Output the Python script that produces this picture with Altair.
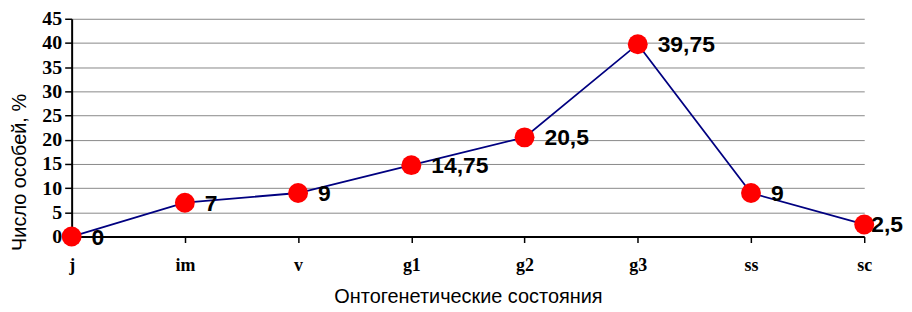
import altair as alt
import pandas as pd

categories = ["j", "im", "v", "g1", "g2", "g3", "ss", "sc"]
values = [0, 7, 9, 14.75, 20.5, 39.75, 9, 2.5]
labels = ["0", "7", "9", "14,75", "20,5", "39,75", "9", "2,5"]

df = pd.DataFrame({"cat": categories, "val": values, "lab": labels})

x = alt.X("cat:N", sort=categories,
          scale=alt.Scale(type="point", padding=0),
          axis=alt.Axis(title="Онтогенетические состояния", labelAngle=0,
                        labelFont="Liberation Serif", labelFontWeight="bold",
                        labelFontSize=18, labelColor="black", labelPadding=14,
                        titleFont="Liberation Sans", titleFontWeight="normal",
                        titleFontSize=20, titleColor="black", titlePadding=12,
                        domainColor="black", domainWidth=2, tickColor="black",
                        tickWidth=1.5, tickSize=6, grid=False))
y = alt.Y("val:Q", scale=alt.Scale(domain=[0, 45], nice=False),
          axis=alt.Axis(title="Число особей, %", values=list(range(0, 50, 5)),
                        labelFont="Liberation Serif", labelFontWeight="bold",
                        labelFontSize=20, labelColor="black", labelPadding=3,
                        titleFont="Liberation Sans", titleFontWeight="normal",
                        titleFontSize=20, titleColor="black",
                        titleX=-52, titleY=154, titleBaseline="middle",
                        titleAlign="center", titleAngle=-90,
                        domainColor="black", domainWidth=2, tickColor="black",
                        tickWidth=1.5, tickSize=7, grid=True, gridColor="#888888",
                        gridWidth=1))

base = alt.Chart(df)
line = base.mark_line(color="#000080", strokeWidth=1.8).encode(x=x, y=y)
pts = base.mark_circle(color="#ff0000", opacity=1, size=400).encode(x=x, y=y)
txt = base.transform_filter(alt.datum.cat != "sc").mark_text(
    align="left", baseline="middle", dx=20, dy=1,
    font="Liberation Sans", fontWeight="bold", fontSize=23,
    color="black").encode(x=x, y=y, text="lab:N")
txt_last = base.transform_filter(alt.datum.cat == "sc").mark_text(
    align="left", baseline="middle", dx=7, dy=1,
    font="Liberation Sans", fontWeight="bold", fontSize=23,
    color="black").encode(x=x, y=y, text="lab:N")

chart = (line + pts + txt + txt_last).properties(
    width=797, height=219,
    autosize=alt.AutoSizeParams(type="none"),
    padding={"left": 64, "top": 10, "right": 40, "bottom": 70},
).configure_view(stroke=None)

chart.save("out.html", embed_options={"renderer": "svg", "actions": False})
